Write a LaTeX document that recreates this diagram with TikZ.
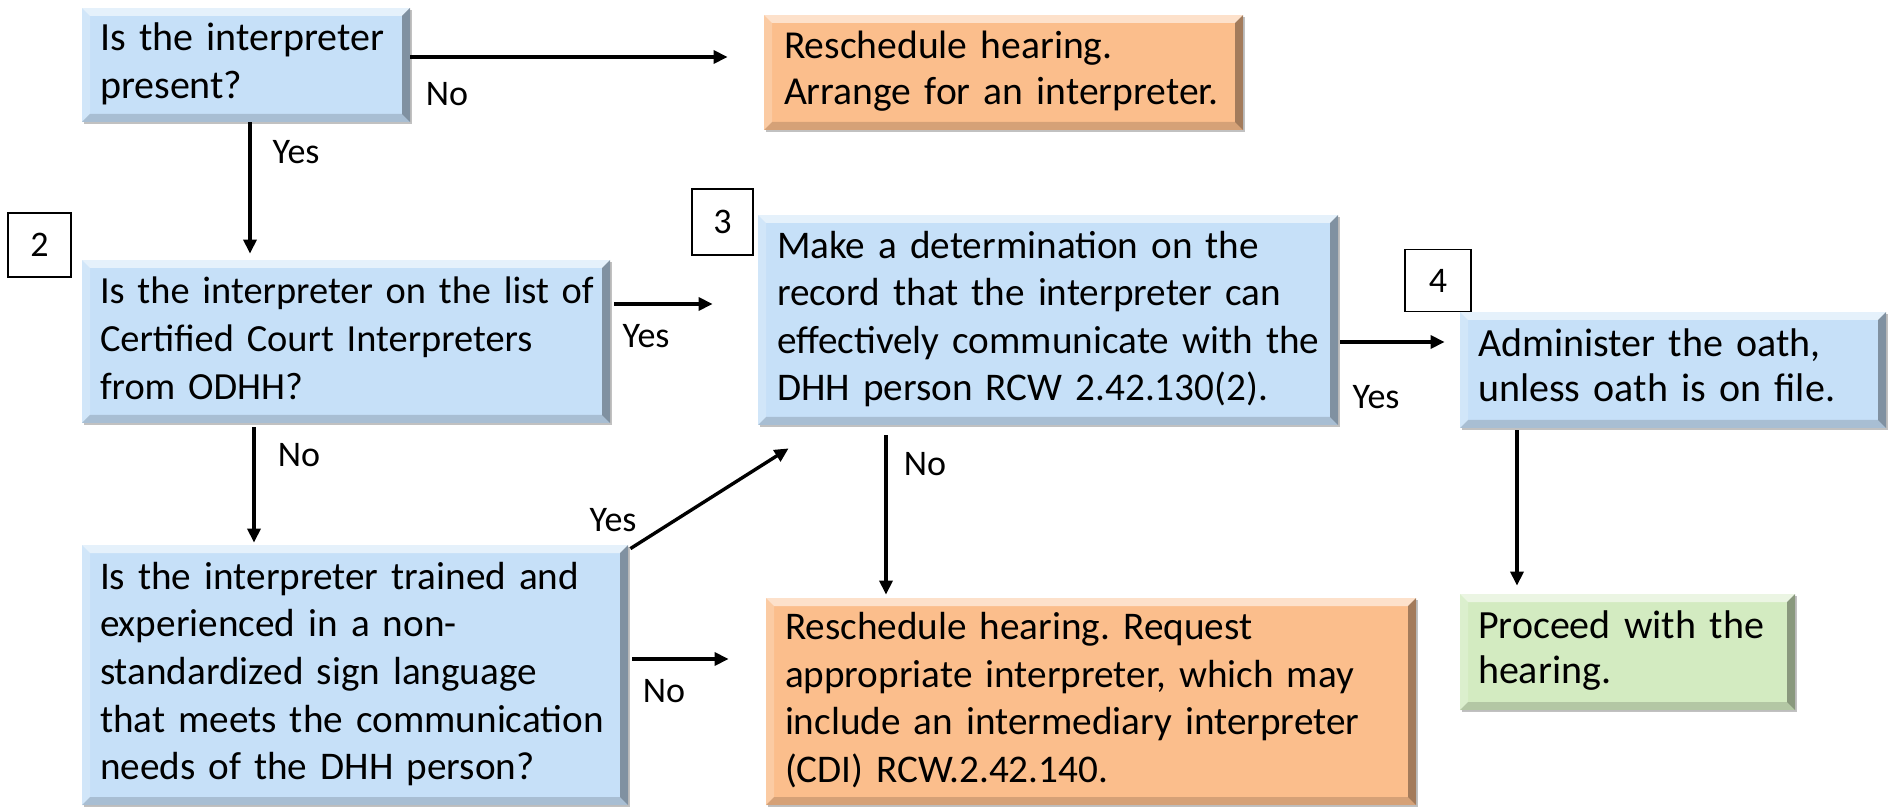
\documentclass[tikz,border=0pt]{standalone}
\usepackage{fontspec}
\setmainfont{Carlito}
\usetikzlibrary{calc,arrows.meta,shadows}
\definecolor{blu}{HTML}{C6E0F8}
\definecolor{ora}{HTML}{FBBE8C}
\definecolor{grn}{HTML}{D3EBC1}
\frenchspacing
\newcommand\rowsof[1]{\begin{tabular}{@{}l@{}}#1\end{tabular}}
\tikzset{
  bevelbox/.style={rectangle, fill=#1, inner xsep=9pt, inner ysep=0pt, align=left,
    font=\fontsize{20}{24}\selectfont,
    drop shadow={shadow xshift=1.2pt, shadow yshift=-1.2pt, opacity=0.35, fill=black!70},
    path picture={
      \fill[white,opacity=.55] (path picture bounding box.north west) -- (path picture bounding box.north east)
        -- ($(path picture bounding box.north east)+(-8,8)$) -- ($(path picture bounding box.north west)+(8,8)$) -- cycle;
      \fill[white,opacity=.2] (path picture bounding box.north west) -- ($(path picture bounding box.north west)+(8,8)$)
        -- ($(path picture bounding box.south west)+(8,-8)$) -- (path picture bounding box.south west) -- cycle;
      \fill[black,opacity=.35] (path picture bounding box.north east) -- (path picture bounding box.south east)
        -- ($(path picture bounding box.south east)+(-8,-8)$) -- ($(path picture bounding box.north east)+(-8,8)$) -- cycle;
      \fill[black,opacity=.15] (path picture bounding box.south west) -- (path picture bounding box.south east)
        -- ($(path picture bounding box.south east)+(-8,-8)$) -- ($(path picture bounding box.south west)+(8,-8)$) -- cycle;
    }},
  numbox/.style={rectangle, draw=black, line width=0.6pt, fill=white, inner sep=0pt,
    font=\fontsize{18}{22}\selectfont},
  lbl/.style={inner sep=0pt, font=\fontsize{18}{22}\selectfont},
  arr/.style={line width=1.7pt, -{Triangle[length=7pt,width=6.5pt]}},
}
\begin{document}
\begin{tikzpicture}[x=0.5pt,y=-0.5pt]
\useasboundingbox (0,0) rectangle (1896,807);

% boxes
\node[bevelbox=blu, text width=146pt, minimum height=57pt] (b1) at (246,65)
  {\rowsof{Is the interpreter\\present?}};
\node[bevelbox=ora, inner xsep=10pt, text width=219.5pt, minimum height=57.5pt, font=\fontsize{19.8}{23}\selectfont] (o1) at (1003.5,72.5)
  {\rowsof{Reschedule hearing.\\Arrange for an interpreter.}};
\node[bevelbox=blu, text width=246pt, minimum height=81.5pt, font=\fontsize{19.2}{24}\selectfont] (b2) at (346,341.5)
  {\rowsof{Is the interpreter on the list of\\Certified Court Interpreters\\from ODHH?}};
\node[bevelbox=blu, inner xsep=9.5pt, text width=271pt, minimum height=105pt, font=\fontsize{19.6}{23.8}\selectfont] (b3) at (1048,320)
  {\rowsof{Make a determination on the\\record that the interpreter can\\effectively communicate with the\\DHH person RCW 2.42.130(2).}};
\node[bevelbox=blu, text width=195pt, minimum height=58pt, font=\fontsize{20}{22.5}\selectfont] (ad) at (1673,370)
  {\rowsof{Administer the oath,\\unless oath is on file.}};
\node[bevelbox=grn, text width=149.5pt, minimum height=58pt, font=\fontsize{20}{22.5}\selectfont] (pr) at (1627.5,652)
  {\rowsof{Proceed with the\\hearing.}};
\node[bevelbox=blu, text width=255pt, minimum height=130pt, font=\fontsize{19.6}{23.8}\selectfont] (b4) at (355,675)
  {\rowsof{Is the interpreter trained and\\experienced in a non-\\standardized sign language\\that meets the communication\\needs of the DHH person?}};
\node[bevelbox=ora, inner xsep=9.5pt, text width=306pt, minimum height=103.5pt, font=\fontsize{19.6}{23.8}\selectfont] (o2) at (1091,701.5)
  {\rowsof{Reschedule hearing. Request\\appropriate interpreter, which may\\include an intermediary interpreter\\(CDI) RCW.2.42.140.}};

% number boxes
\node[numbox, minimum width=31.5pt, minimum height=32pt] (n2) at (39.5,245) {2};
\node[numbox, minimum width=30.5pt, minimum height=33pt] (n3) at (722.5,222) {3};
\node[numbox, minimum width=33pt, minimum height=31pt] (n4) at (1438,280.5) {4};

% connectors
\coordinate (s1) at ($(b1.east)+(0,-8)$);
\draw[arr, shorten >=18pt] (s1) -- (s1 -| o1.west);
\coordinate (s2) at ($(b1.south)+(4,0)$);
\draw[arr, shorten >=3pt] (s2) -- (s2 |- b2.north);
\coordinate (s3) at ($(b2.east)+(4,-37.5)$);
\draw[arr, shorten >=22.5pt] (s3) -- (s3 -| b3.west);
\coordinate (s4) at ($(b2.south)+(-92,4)$);
\draw[arr, shorten >=1pt] (s4) -- (s4 |- b4.north);
\draw[arr] ($(b4.north east)+(2,4)$) -- ($(b3.south west)+(31,23)$);
\coordinate (s6) at ($(b4.east)+(4,-16)$);
\draw[arr, shorten >=18.5pt] (s6) -- (s6 -| o2.west);
\coordinate (s7) at ($(b3.south)+(-162,10)$);
\draw[arr, shorten >=1.5pt] (s7) -- (s7 |- o2.north);
\coordinate (s8) at ($(b3.east)+(2,22)$);
\draw[arr, shorten >=7.5pt] (s8) -- (s8 -| ad.west);
\coordinate (s9) at ($(ad.south)+(-156,2)$);
\draw[arr, shorten >=4pt] (s9) -- (s9 |- pr.north);

% labels
\node[lbl] (l1) at (447,94) {No};
\node[lbl] (l2) at (296,152) {Yes};
\node[lbl] (l3) at (646,336) {Yes};
\node[lbl] (l4) at (299,455) {No};
\node[lbl] (l5) at (613,520) {Yes};
\node[lbl] (l6) at (664,691) {No};
\node[lbl] (l7) at (925,464) {No};
\node[lbl] (l8) at (1376,397) {Yes};
\end{tikzpicture}
\end{document}
